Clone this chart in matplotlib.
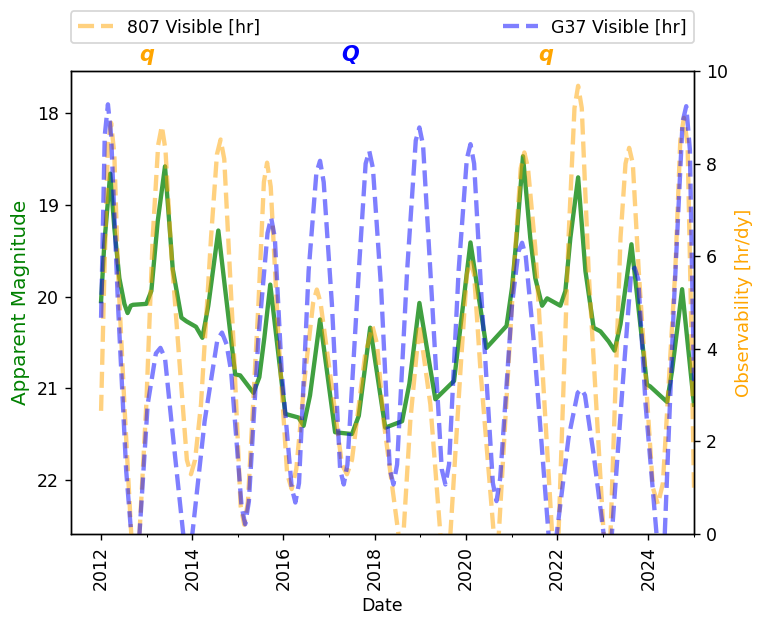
import datetime as dt
import matplotlib
matplotlib.use("Agg")
import matplotlib.pyplot as plt
import matplotlib.dates as mdates

# ---------------- data (decimal years) ----------------
mag_years = [2012.00, 2012.07, 2012.20, 2012.29, 2012.40, 2012.51, 2012.58, 2012.65, 2012.70, 2012.99,
             2013.10, 2013.24, 2013.40, 2013.57, 2013.76, 2013.87, 2014.08, 2014.22,
             2014.35, 2014.57, 2014.72, 2014.94, 2015.05, 2015.34,
             2015.47, 2015.58, 2015.71, 2016.04, 2016.33, 2016.44,
             2016.58, 2016.80, 2017.13, 2017.50,
             2017.65, 2017.90, 2018.23, 2018.60,
             2018.76, 2018.98, 2019.33, 2019.74,
             2020.10, 2020.45, 2020.89,
             2021.01, 2021.12, 2021.25, 2021.41, 2021.52, 2021.67, 2021.78, 2022.07,
             2022.18, 2022.29, 2022.46, 2022.62, 2022.80, 2022.95, 2023.13, 2023.26,
             2023.39, 2023.63, 2023.97, 2024.04, 2024.41,
             2024.52, 2024.74, 2025.00]
mag_values = [20.05, 19.43, 18.66, 19.25, 19.80, 20.08, 20.18, 20.10, 20.09, 20.08,
              19.94, 19.18, 18.58, 19.70, 20.23, 20.27, 20.33, 20.45,
              20.10, 19.28, 19.92, 20.85, 20.86, 21.05,
              20.88, 20.45, 19.87, 21.28, 21.32, 21.41,
              21.08, 20.25, 21.48, 21.50,
              21.30, 20.34, 21.43, 21.36,
              20.95, 20.07, 21.12, 20.92,
              19.41, 20.56, 20.32,
              19.90, 19.29, 18.47, 19.36, 19.80, 20.10, 20.02, 20.10,
              19.94, 19.36, 18.70, 19.72, 20.34, 20.38, 20.49, 20.59,
              20.30, 19.43, 20.96, 20.98, 21.15,
              20.81, 19.92, 21.18]

vis807_years = [2012.00, 2012.07, 2012.15, 2012.22, 2012.29, 2012.37, 2012.51, 2012.66, 2012.75, 2012.84,
                2012.99, 2013.13, 2013.25, 2013.33, 2013.41, 2013.54, 2013.76, 2013.88, 2013.97, 2014.06,
                2014.19, 2014.41, 2014.54, 2014.62, 2014.70, 2014.90, 2015.06, 2015.14, 2015.22,
                2015.45, 2015.57, 2015.64, 2015.72, 2015.89, 2016.08, 2016.18, 2016.28,
                2016.48, 2016.65, 2016.73, 2016.81, 2017.06, 2017.28, 2017.39, 2017.50,
                2017.79, 2017.95, 2018.05, 2018.20, 2018.52, 2018.575, 2018.63,
                2018.78, 2018.98, 2019.22, 2019.44, 2019.55, 2019.66,
                2019.88, 2020.02, 2020.10, 2020.18, 2020.32, 2020.61, 2020.665, 2020.72,
                2021.05, 2021.20, 2021.28, 2021.36, 2021.52, 2021.89, 2021.96, 2022.03,
                2022.25, 2022.38, 2022.46, 2022.54, 2022.69, 2023.02, 2023.095, 2023.17,
                2023.39, 2023.50, 2023.58, 2023.66, 2023.79, 2024.10, 2024.21, 2024.32,
                2024.59, 2024.70, 2024.78, 2024.86, 2024.93, 2025.00]
vis807_hours = [2.66, 5.54, 8.40, 8.88, 8.20, 5.68, 2.80, 0.00, -0.90, 0.00,
                2.80, 6.40, 8.40, 8.81, 8.30, 6.04, 3.16, 1.60, 1.29, 1.60,
                2.80, 6.40, 8.20, 8.52, 8.10, 4.20, 0.60, 0.20, 0.70,
                4.96, 7.60, 8.02, 7.50, 4.24, 1.30, 0.97, 1.40,
                3.52, 5.00, 5.28, 5.00, 3.16, 1.50, 1.29, 1.60,
                3.88, 4.49, 4.10, 2.40, 0.00, -0.40, 0.00,
                2.44, 4.53, 2.80, 0.00, -1.00, 0.00,
                3.52, 5.60, 5.90, 5.60, 3.52, 0.00, -0.40, 0.00,
                5.68, 7.90, 8.24, 7.90, 6.18, 0.00, -0.80, 0.00,
                6.40, 9.20, 9.68, 9.20, 5.68, 0.00, -0.80, 0.00,
                6.40, 8.00, 8.34, 8.00, 5.68, 1.00, 0.64, 1.10,
                5.68, 8.50, 8.99, 8.40, 5.00, 1.00]

visG37_years = [2012.00, 2012.08, 2012.15, 2012.22, 2012.37, 2012.55, 2012.66, 2012.75, 2012.84,
                2013.02, 2013.20, 2013.30, 2013.40, 2013.54, 2013.80, 2013.90, 2014.00,
                2014.27, 2014.55, 2014.65, 2014.75, 2014.85, 2015.08, 2015.16, 2015.24,
                2015.45, 2015.65, 2015.73, 2015.81, 2015.96, 2016.18, 2016.26, 2016.34,
                2016.55, 2016.72, 2016.80, 2016.88, 2017.06, 2017.24, 2017.32, 2017.40,
                2017.65, 2017.80, 2017.88, 2017.96, 2018.14, 2018.33, 2018.41, 2018.49,
                2018.71, 2018.90, 2018.98, 2019.06, 2019.22, 2019.47, 2019.55, 2019.63,
                2019.84, 2020.02, 2020.10, 2020.18, 2020.35, 2020.59, 2020.67, 2020.75,
                2021.01, 2021.15, 2021.23, 2021.31, 2021.48, 2021.81, 2021.90, 2021.99,
                2022.25, 2022.45, 2022.53, 2022.61, 2022.80, 2023.02, 2023.11, 2023.20,
                2023.46, 2023.62, 2023.70, 2023.78, 2023.94, 2024.18, 2024.27, 2024.36,
                2024.56, 2024.75, 2024.83, 2024.91, 2025.00]
visG37_hours = [4.67, 8.60, 9.28, 8.60, 4.96, 1.36, 0.00, -0.80, 0.00,
                2.80, 3.90, 4.02, 3.80, 2.44, 0.00, -0.40, 0.00,
                2.44, 4.20, 4.35, 4.10, 3.52, 0.60, 0.21, 0.70,
                4.24, 6.50, 6.83, 6.40, 3.52, 1.00, 0.68, 1.10,
                5.68, 7.80, 8.06, 7.60, 4.96, 1.40, 1.07, 1.50,
                5.68, 8.00, 8.27, 7.90, 5.30, 1.40, 1.07, 1.50,
                5.68, 8.50, 8.78, 8.40, 5.68, 1.40, 1.07, 1.50,
                5.68, 8.10, 8.42, 8.00, 4.96, 1.10, 0.71, 1.20,
                4.96, 6.10, 6.29, 6.00, 4.24, 0.00, -0.80, 0.00,
                2.08, 3.05, 3.13, 3.00, 1.72, 0.00, -0.80, 0.00,
                3.52, 5.60, 5.75, 5.50, 2.80, 0.00, -0.30, 0.00,
                4.96, 8.90, 9.24, 8.30, 3.30]

marker_years = [2012.99, 2017.47, 2021.76]
marker_labels = ["q", "Q", "q"]
marker_colors = ["orange", "blue", "orange"]

legend_labels = ["807 Visible [hr]", "G37 Visible [hr]"]


def to_date(y):
    year = int(y)
    start = dt.datetime(year, 1, 1)
    end = dt.datetime(year + 1, 1, 1)
    return start + (end - start) * (y - year)


def to_dates(ys):
    return [to_date(y) for y in ys]


DPI = 125
fig = plt.figure(figsize=(765 / DPI, 628 / DPI), dpi=DPI)
ax1 = fig.add_axes([71 / 765, 1 - 534 / 628, 623 / 765, 463 / 628])

ax1.plot(to_dates(mag_years), mag_values, color="green", alpha=0.75, lw=2.5)
ax1.set_ylim(22.59, 17.54)
ax1.set_yticks([18, 19, 20, 21, 22])
ax1.set_ylabel("Apparent Magnitude", color="green", fontsize=11.5)
ax1.set_xlabel("Date")

ax2 = ax1.twinx()
l1, = ax2.plot(to_dates(vis807_years), vis807_hours, color="orange", alpha=0.5,
               lw=2.5, ls="--", label=legend_labels[0])
l2, = ax2.plot(to_dates(visG37_years), visG37_hours, color="blue", alpha=0.5,
               lw=2.5, ls="--", label=legend_labels[1])
ax2.set_ylim(0, 10)
ax2.set_yticks([0, 2, 4, 6, 8, 10])
ax2.set_ylabel("Observability [hr/dy]", color="orange", fontsize=10.5)

ax1.set_xlim(to_date(2011.34), to_date(2025.0))
ax1.xaxis.set_major_locator(mdates.YearLocator(2))
ax1.xaxis.set_minor_locator(mdates.YearLocator(1))
ax1.xaxis.set_major_formatter(mdates.DateFormatter("%Y"))
for lab in ax1.get_xticklabels():
    lab.set_rotation(90)

for yr, txt, col in zip(marker_years, marker_labels, marker_colors):
    ax2.text(to_date(yr), 1.035, txt, transform=ax2.get_xaxis_transform(),
             color=col, fontsize=12, fontweight="bold", fontstyle="italic",
             ha="center", va="center")

ax2.legend(handles=[l1, l2], bbox_to_anchor=(0, 1.06, 1, 0.1), loc="lower left",
           ncol=2, mode="expand", borderaxespad=0)

fig.savefig("out.png", dpi=DPI)
